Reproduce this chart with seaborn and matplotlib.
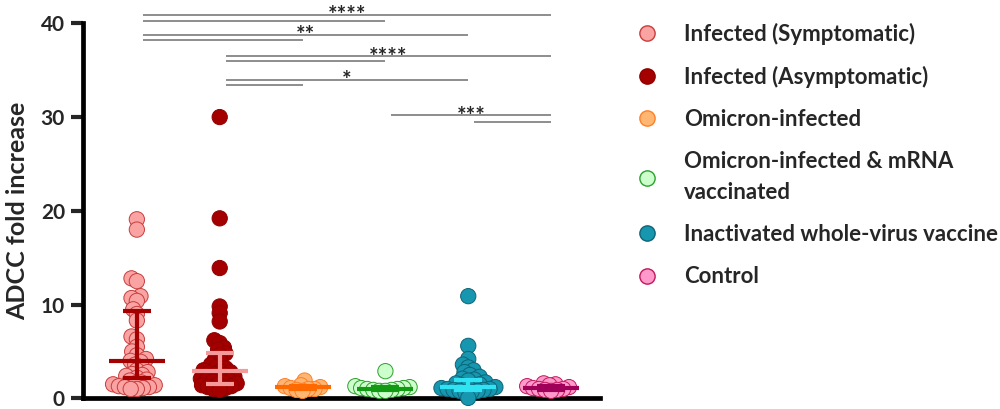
import matplotlib

matplotlib.use("Agg")

import matplotlib.pyplot as plt
import pandas as pd
import seaborn as sns
from matplotlib.lines import Line2D

# groups and their values (ADCC fold increase)
GROUPS = [
    "Infected (Symptomatic)",
    "Infected (Asymptomatic)",
    "Omicron-infected",
    "Omicron-infected & mRNA\nvaccinated",
    "Inactivated whole-virus vaccine",
    "Control",
]
sym = [19.1, 18.0, 12.8, 12.5, 10.9, 10.7, 10.4, 9.5, 9.0, 8.3, 6.6, 6.3, 5.5, 5.0, 4.6, 4.2, 4.0, 3.9,
       3.6, 3.3, 3.0, 2.8, 2.6, 2.5, 2.4, 2.2, 2.0, 1.9, 1.7, 1.6, 1.5, 1.4, 1.3, 1.2, 1.2, 1.1, 1.0, 1.0]
asym = [30.0, 19.2, 13.9, 9.8, 9.1, 8.2, 6.2, 5.9, 5.4, 5.2, 4.8, 4.6, 4.2, 3.9, 3.6, 3.4, 3.2, 3.0, 2.9,
        2.8, 2.7, 2.6, 2.5, 2.3, 2.2, 2.1, 2.0, 1.9, 1.8, 1.7, 1.6, 1.5, 1.4, 1.3, 1.2, 1.1, 1.0, 0.9]
omicron = [1.9, 1.4, 1.3, 1.2, 1.1, 1.0, 1.0, 0.9, 0.8]
omicron_mrna = [2.9, 1.3, 1.2, 1.1, 1.1, 1.0, 1.0, 0.9, 0.9, 0.8, 0.8]
inactivated = [10.9, 5.6, 4.2, 3.6, 3.3, 3.0, 2.8, 2.5, 2.3, 2.1, 2.0, 1.9, 1.7, 1.6, 1.5, 1.4, 1.3, 1.2,
               1.2, 1.1, 1.0, 1.0, 0.9, 0.9, 0.8, 0.8, 0.7, 0.6, 0.05]
control = [1.6, 1.5, 1.4, 1.3, 1.2, 1.1, 1.0, 1.0, 0.9, 0.9, 0.8]
VALUES = [sym, asym, omicron, omicron_mrna, inactivated, control]

# median with interquartile range, as drawn in the figure
medians = [4.0, 2.9, 1.2, 1.05, 1.2, 1.1]
q1 = [2.2, 1.5, 1.0, 0.9, 0.9, 0.9]
q3 = [9.3, 4.8, 1.3, 1.2, 2.0, 1.3]

# pairwise comparisons (group index pairs) and their significance labels
comp_pairs = [(0, 5), (0, 3), (0, 4), (0, 2), (1, 5), (1, 3), (1, 4), (1, 2), (3, 5), (4, 5)]
comp_labels = ["****", "", "**", "", "****", "", "*", "", "***", ""]

FACE = ["#F9A3A3", "#A50000", "#FFB673", "#CCFFCC", "#1796B0", "#FF99CC"]
EDGE = ["#C83C3C", "#8E0000", "#FF7F27", "#2CA02C", "#0E6476", "#C2185B"]
BAR = ["#A50000", "#F59A9A", "#FF6A00", "#139A13", "#2FE3F3", "#A0005A"]
comp_y = [40.9, 40.3, 38.8, 38.2, 36.5, 36.0, 34.0, 33.4, 30.2, 29.5]

df = pd.DataFrame(
    {
        "group": [g for g, vals in zip(GROUPS, VALUES) for _ in vals],
        "value": [v for vals in VALUES for v in vals],
    }
)

sns.set_style("white")
plt.rcParams["font.family"] = ["Lato", "DejaVu Sans"]
plt.rcParams["font.weight"] = "bold"

fig = plt.figure(figsize=(10, 4.09), dpi=100)
ax = fig.add_axes([0.083, 0.026, 0.517, 0.917])

sns.swarmplot(
    data=df, x="group", y="value", hue="group", order=GROUPS, hue_order=GROUPS,
    palette=dict(zip(GROUPS, FACE)), size=3.5, linewidth=0.7, legend=False, ax=ax,
)
swarm_colls = list(ax.collections)
for coll, ec in zip(swarm_colls, EDGE):
    coll.set_edgecolor(ec)
    coll.set_clip_on(False)

for i in range(len(GROUPS)):
    ax.errorbar(
        i, medians[i], yerr=[[medians[i] - q1[i]], [q3[i] - medians[i]]],
        fmt="_", color=BAR[i], markersize=40, mew=3, elinewidth=3,
        capsize=10, capthick=3, zorder=3,
    )

for (a, b), lab, y in zip(comp_pairs, comp_labels, comp_y):
    ax.plot([a + 0.07, b], [y, y], color="#7A7A7A", lw=1.2, clip_on=False, solid_capstyle="butt")
    if lab:
        ax.text((a + 0.07 + b) / 2, y - 0.8, lab, ha="center", va="baseline",
                fontsize=16, fontweight="bold", clip_on=False)

ax.set_xlim(-0.65, 5.59)
ax.set_ylim(0, 40)
ax.set_yticks([0, 10, 20, 30, 40])
ax.set_xticks([])
ax.set_xlabel("")
ax.set_ylabel("ADCC fold increase", fontsize=18, fontweight="bold", labelpad=8)
ax.tick_params(axis="y", length=9, width=3, labelsize=15, pad=4, left=True)
for side in ["top", "right"]:
    ax.spines[side].set_visible(False)
for side in ["left", "bottom"]:
    ax.spines[side].set_linewidth(3.4)
    ax.spines[side].set_color("black")

handles = [
    Line2D([], [], marker="o", ls="", markersize=11, markerfacecolor=f, markeredgecolor=e, mew=1)
    for f, e in zip(FACE, EDGE)
]
leg = fig.legend(
    handles, GROUPS, loc="upper left", bbox_to_anchor=(0.637, 0.945), frameon=False,
    fontsize=16, handlelength=0.9, handletextpad=1.2, labelspacing=0.95, borderpad=0,
    borderaxespad=0,
)
leg.get_texts()[3].set_linespacing(1.6)

# fix the swarm positions computed at a small size, then draw larger overlapping dots
fig.canvas.draw()
for coll in swarm_colls:
    if "draw" in coll.__dict__:
        del coll.draw
    coll.set_sizes([11 ** 2])

fig.savefig("out.png", dpi=100)
